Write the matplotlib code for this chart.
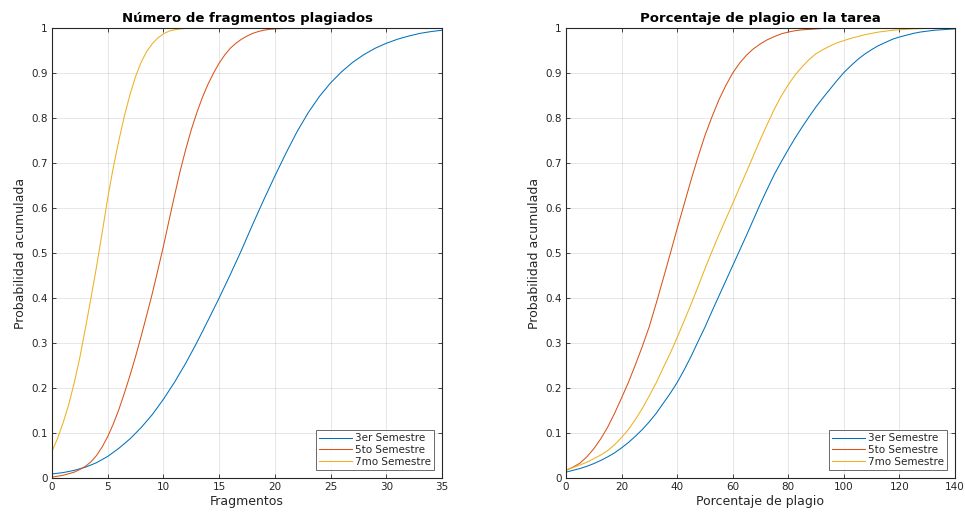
import numpy as np
import matplotlib.pyplot as plt

# Colores por defecto de MATLAB
colors = ['#0072BD', '#D95319', '#EDB120']
labels = ['3er Semestre', '5to Semestre', '7mo Semestre']

# Panel izquierdo: numero de fragmentos plagiados
frag_x_blue = list(range(0, 36))
frag_blue = [0.009, 0.012, 0.017, 0.024, 0.034, 0.048, 0.066, 0.087, 0.112, 0.141,
             0.175, 0.213, 0.255, 0.301, 0.35, 0.40, 0.452, 0.506, 0.563, 0.618,
             0.671, 0.722, 0.77, 0.812, 0.848, 0.878, 0.903, 0.924, 0.941, 0.955,
             0.966, 0.975, 0.982, 0.988, 0.992, 0.995]

frag_x_orange = [0, 1, 2, 2.5, 3, 3.5, 4, 4.5, 5, 5.5, 6, 6.5, 7, 7.5, 8, 8.5, 9, 9.5,
                 10, 10.5, 11, 11.5, 12, 12.5, 13, 13.5, 14, 14.5, 15, 15.5, 16, 16.5,
                 17, 17.5, 18, 18.5, 19, 19.5, 20, 21, 22, 25, 30, 35]
frag_orange = [0.002, 0.006, 0.013, 0.019, 0.026, 0.036, 0.05, 0.069, 0.092, 0.12,
               0.152, 0.189, 0.228, 0.27, 0.315, 0.362, 0.41, 0.462, 0.515, 0.572,
               0.628, 0.682, 0.73, 0.774, 0.812, 0.846, 0.875, 0.90, 0.922, 0.94,
               0.955, 0.966, 0.975, 0.982, 0.988, 0.992, 0.995, 0.997, 0.998, 0.999,
               1.0, 1.0, 1.0, 1.0]

frag_x_yellow = [0, 0.5, 1, 1.5, 2, 2.5, 3, 3.5, 4, 4.5, 5, 5.5, 6, 6.5, 7, 7.5,
                 8, 8.5, 9, 9.5, 10, 10.5, 11, 11.5, 12, 12.5, 15, 20, 25, 30, 35]
frag_yellow = [0.059, 0.088, 0.123, 0.163, 0.212, 0.268, 0.333, 0.40, 0.47, 0.545,
               0.622, 0.69, 0.75, 0.805, 0.852, 0.892, 0.924, 0.948, 0.965, 0.978,
               0.987, 0.993, 0.996, 0.998, 0.999, 1.0, 1.0, 1.0, 1.0, 1.0, 1.0]

# Panel derecho: porcentaje de plagio en la tarea
pct_x = [i * 2.5 for i in range(57)]
pct_blue = [0.013, 0.017, 0.021, 0.026, 0.032, 0.039, 0.047, 0.056, 0.067, 0.079,
            0.093, 0.108, 0.125, 0.144, 0.166, 0.188, 0.212, 0.24, 0.27, 0.303,
            0.335, 0.37, 0.404, 0.438, 0.472, 0.506, 0.54, 0.575, 0.61, 0.643,
            0.675, 0.703, 0.73, 0.756, 0.78, 0.803, 0.825, 0.845, 0.864, 0.883,
            0.901, 0.916, 0.93, 0.942, 0.952, 0.961, 0.968, 0.975, 0.98, 0.984,
            0.988, 0.991, 0.993, 0.995, 0.996, 0.997, 0.998]
pct_orange = [0.017, 0.024, 0.033, 0.047, 0.065, 0.087, 0.113, 0.144, 0.178, 0.213,
              0.252, 0.293, 0.337, 0.389, 0.443, 0.498, 0.554, 0.608, 0.662, 0.713,
              0.761, 0.802, 0.84, 0.872, 0.90, 0.922, 0.94, 0.954, 0.965, 0.974,
              0.981, 0.987, 0.991, 0.994, 0.996, 0.997, 0.998, 0.999, 0.999, 1.0,
              1.0, 1.0, 1.0, 1.0, 1.0, 1.0, 1.0, 1.0, 1.0, 1.0,
              1.0, 1.0, 1.0, 1.0, 1.0, 1.0, 1.0]
pct_yellow = [0.018, 0.023, 0.029, 0.035, 0.043, 0.051, 0.061, 0.074, 0.09, 0.108,
              0.13, 0.155, 0.183, 0.212, 0.245, 0.277, 0.312, 0.349, 0.386, 0.425,
              0.465, 0.503, 0.54, 0.575, 0.61, 0.646, 0.681, 0.717, 0.753, 0.787,
              0.82, 0.849, 0.874, 0.896, 0.914, 0.93, 0.943, 0.952, 0.96, 0.967,
              0.972, 0.977, 0.981, 0.985, 0.988, 0.991, 0.993, 0.995, 0.996, 0.997,
              0.998, 0.9985, 0.999, 0.9995, 1.0, 1.0, 1.0]

dark = '#262626'
plt.rcParams['font.family'] = 'DejaVu Sans'

fig = plt.figure(figsize=(9.65, 5.13), dpi=100)
ax1 = fig.add_axes([52 / 965, 35 / 513, 390 / 965, 450 / 513])
ax2 = fig.add_axes([566 / 965, 35 / 513, 389 / 965, 450 / 513])


def style_axes(ax, title, xlabel, xmax, xstep):
    ax.set_xlim(0, xmax)
    ax.set_ylim(0, 1)
    ax.set_xticks(np.arange(0, xmax + 1, xstep))
    ax.set_yticks(np.arange(0, 1.01, 0.1))
    ax.set_yticklabels(['0', '0.1', '0.2', '0.3', '0.4', '0.5', '0.6', '0.7', '0.8', '0.9', '1'])
    ax.grid(True, color='#262626', alpha=0.13, lw=0.6)
    ax.set_axisbelow(True)
    ax.tick_params(direction='in', length=3, width=0.6, colors=dark, labelsize=7.5,
                   top=True, right=True, pad=3)
    for s in ax.spines.values():
        s.set_color(dark)
        s.set_linewidth(0.8)
    ax.set_title(title, fontsize=9.5, fontweight='bold', color='black', pad=4)
    ax.set_xlabel(xlabel, fontsize=9, color=dark, labelpad=2)
    ax.set_ylabel('Probabilidad acumulada', fontsize=9, color=dark, labelpad=3)
    leg = ax.legend(loc='lower right', fontsize=7.5, frameon=True, fancybox=False,
                    borderpad=0.3, labelspacing=0.15, handlelength=3.2,
                    handletextpad=0.2, borderaxespad=0.8)
    leg.get_frame().set_edgecolor(dark)
    leg.get_frame().set_linewidth(0.6)
    for t in leg.get_texts():
        t.set_color(dark)


ax1.plot(frag_x_blue, frag_blue, color=colors[0], lw=0.75, label=labels[0])
ax1.plot(frag_x_orange, frag_orange, color=colors[1], lw=0.75, label=labels[1])
ax1.plot(frag_x_yellow, frag_yellow, color=colors[2], lw=0.75, label=labels[2])
style_axes(ax1, 'Número de fragmentos plagiados', 'Fragmentos', 35, 5)

ax2.plot(pct_x, pct_blue, color=colors[0], lw=0.75, label=labels[0])
ax2.plot(pct_x, pct_orange, color=colors[1], lw=0.75, label=labels[1])
ax2.plot(pct_x, pct_yellow, color=colors[2], lw=0.75, label=labels[2])
style_axes(ax2, 'Porcentaje de plagio en la tarea', 'Porcentaje de plagio', 140, 20)

fig.savefig('out.png', dpi=100)
